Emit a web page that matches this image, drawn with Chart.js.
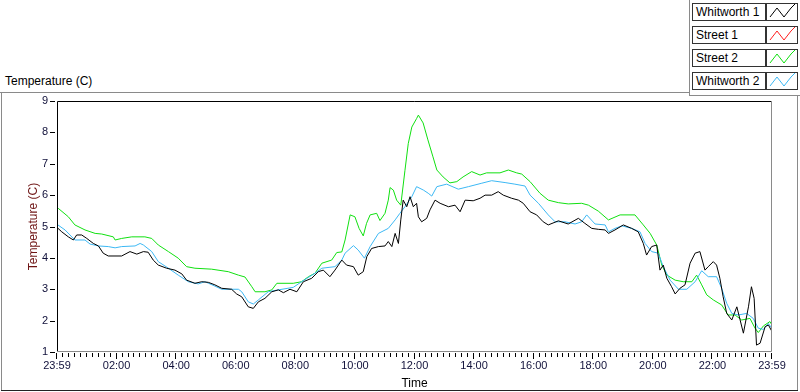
<!DOCTYPE html>
<html>
<head>
<meta charset="utf-8">
<script src="https://cdn.jsdelivr.net/npm/chart.js@4.4.1/dist/chart.umd.min.js"></script>
<style>
  html, body { margin:0; padding:0; background:#fff; }
  body { width:800px; height:392px; position:relative; overflow:hidden; font-family:"Liberation Sans", Arial, sans-serif; }
  #wrap { position:absolute; left:0; top:0; width:800px; height:392px; }
  .ln { position:absolute; background:#8a8a8a; }
  #ttl { position:absolute; left:5px; top:74px; font-size:12px; line-height:14px; color:#000; }
  .lgText { position:absolute; left:692px; width:69px; height:16px; border:1px solid #333; font-size:12px; line-height:16px; padding-left:3px; box-sizing:content-box; background:#fff; color:#000; white-space:nowrap; }
  .lgIcon { position:absolute; left:766px; width:30px; height:16px; border:1px solid #333; background:#fff; }
</style>
</head>
<body>
<div class="ln" style="left:0;top:92px;width:690px;height:1px;"></div>
<div class="ln" style="left:689px;top:0;width:1px;height:96px;"></div>
<div class="ln" style="left:689px;top:95px;width:111px;height:1px;"></div>
<div class="ln" style="left:1px;top:92px;width:1px;height:299px;"></div>
<div class="ln" style="left:797px;top:95px;width:1px;height:296px;"></div>
<div class="ln" style="left:1px;top:390px;width:797px;height:1px;background:#222;"></div>
<div id="ttl">Temperature (C)</div>
<div id="wrap"><canvas id="c"></canvas></div>
<div id="legend"></div>
<script>
// ---- Data (hours after 23:59, temperature in C) ----
const tickLabels = ["23:59","02:00","04:00","06:00","08:00","10:00","12:00","14:00","16:00","18:00","20:00","22:00","23:59"];
const tickHours  = [0,2,4,6,8,10,12,14,16,18,20,22,24];
const seriesNames = ["Whitworth 1","Street 1","Street 2","Whitworth 2"];

const w1Hours = [0,0.16,0.38,0.55,0.66,0.83,1.00,1.22,1.39,1.55,1.72,2.17,2.45,2.68,2.90,3.06,3.23,3.40,3.68,3.96,4.19,4.35,4.63,4.86,5.08,5.30,5.53,5.86,6.03,6.20,6.42,6.59,6.76,6.98,7.21,7.43,7.60,7.82,8.05,8.27,8.55,8.77,8.94,9.16,9.33,9.56,9.72,9.95,10.11,10.28,10.40,10.56,10.79,11.01,11.12,11.24,11.35,11.46,11.54,11.62,11.74,11.85,11.96,12.07,12.13,12.24,12.41,12.52,12.69,12.86,13.14,13.36,13.53,13.70,13.97,14.20,14.37,14.59,14.81,14.98,15.26,15.49,15.65,15.88,16.10,16.32,16.49,16.83,17.16,17.50,17.72,17.95,18.17,18.40,18.51,18.73,19.01,19.29,19.51,19.68,19.79,19.96,20.13,20.24,20.35,20.47,20.63,20.75,20.91,21.08,21.25,21.42,21.58,21.75,21.86,22.03,22.14,22.25,22.36,22.48,22.65,22.82,22.93,23.04,23.21,23.31,23.40,23.48,23.60,23.77,23.88,24.00];
const w1Temps = [4.97,4.83,4.67,4.57,4.73,4.73,4.62,4.46,4.38,4.15,4.06,4.06,4.20,4.12,4.20,4.18,3.93,3.77,3.67,3.61,3.49,3.29,3.19,3.24,3.22,3.14,3.03,3.00,2.85,2.76,2.44,2.39,2.60,2.71,2.92,2.98,2.89,3.00,2.92,3.24,3.35,3.56,3.61,3.40,3.61,3.93,3.77,3.72,3.45,3.56,4.04,4.30,4.36,4.38,4.52,4.36,4.78,4.46,5.21,5.84,5.63,5.95,5.63,5.74,5.31,5.15,5.26,5.53,5.84,5.74,5.63,5.68,5.47,5.84,5.82,5.90,6.00,6.00,6.11,6.00,5.90,5.84,5.74,5.47,5.37,5.15,5.05,5.18,5.08,5.26,5.10,4.94,4.91,4.89,4.78,4.89,5.05,4.94,4.83,4.46,4.09,4.36,4.41,3.61,3.77,3.35,3.08,2.85,3.03,3.14,3.83,4.15,4.20,3.61,3.72,3.88,3.77,3.35,2.76,2.23,2.02,2.44,2.02,1.60,2.44,3.08,2.71,1.22,1.28,1.81,1.86,1.65];

const s1Hours = [];
const s1Temps = [];

const s2Hours = [0,0.04,0.38,0.60,0.94,1.28,1.50,1.89,1.95,2.17,2.51,2.95,3.18,3.40,3.74,4.07,4.35,4.63,5.19,5.75,6.09,6.31,6.54,6.65,6.98,7.21,7.38,7.93,8.21,8.44,8.66,8.89,9.22,9.39,9.56,9.67,9.84,10.00,10.14,10.28,10.39,10.51,10.73,10.84,11.01,11.12,11.18,11.29,11.40,11.54,11.68,11.79,11.91,12.07,12.13,12.29,12.45,12.62,12.75,12.96,13.19,13.42,13.63,13.92,14.20,14.42,14.87,15.15,15.43,15.60,15.88,16.21,16.49,16.83,17.16,17.61,17.84,18.17,18.51,18.90,19.40,19.68,19.91,20.13,20.30,20.47,20.75,21.02,21.31,21.47,21.64,21.81,22.03,22.31,22.53,22.76,22.98,23.26,23.43,23.54,23.71,23.93,24.00];
const s2Temps = [5.60,5.58,5.31,5.05,4.89,4.78,4.76,4.67,4.57,4.62,4.67,4.67,4.62,4.41,4.20,3.99,3.72,3.67,3.64,3.56,3.45,3.39,3.08,2.92,2.92,2.98,3.19,3.19,3.24,3.40,3.51,3.83,3.93,4.17,4.19,4.57,5.37,5.31,4.94,4.70,5.10,5.37,5.42,5.19,5.42,5.84,6.24,6.16,5.84,5.68,6.79,7.64,8.17,8.44,8.55,8.30,7.76,7.22,6.80,6.58,6.39,6.43,6.58,6.75,6.64,6.71,6.71,6.80,6.71,6.67,6.43,6.06,5.84,5.76,5.72,5.74,5.68,5.49,5.21,5.37,5.37,5.05,4.78,4.41,3.77,3.45,3.29,3.24,3.24,3.45,3.14,2.82,2.66,2.50,2.18,2.18,2.02,2.07,1.76,1.62,1.83,1.97,1.86];

const w2Hours = [0,0.27,0.60,0.94,1.11,1.39,1.72,1.95,2.17,2.62,2.79,2.90,3.18,3.40,3.74,4.07,4.41,4.74,4.97,5.30,5.53,6.09,6.20,6.42,6.59,6.76,7.09,7.43,7.93,8.21,8.66,8.89,9.33,9.56,9.67,9.95,10.11,10.32,10.51,10.79,11.12,11.35,11.51,11.68,11.91,12.07,12.30,12.46,12.58,12.75,13.08,13.47,13.81,14.26,14.59,15.04,15.37,15.71,15.88,16.16,16.49,16.72,17.05,17.39,17.61,17.78,18.06,18.40,18.51,18.73,18.96,19.29,19.57,19.74,19.96,20.18,20.35,20.58,20.86,21.14,21.42,21.64,21.86,22.14,22.31,22.48,22.65,22.87,23.15,23.37,23.54,23.71,23.88,24.00];
const w2Temps = [5.07,4.89,4.57,4.57,4.44,4.38,4.36,4.32,4.36,4.38,4.46,4.41,4.20,3.88,3.67,3.45,3.24,3.17,3.24,3.10,3.00,3.00,2.92,2.60,2.53,2.66,2.92,2.98,3.06,3.24,3.51,3.67,3.72,3.93,4.15,4.39,4.25,3.99,4.36,4.78,4.94,5.21,5.42,5.63,5.95,6.27,6.16,6.06,5.97,6.27,6.35,6.19,6.27,6.38,6.46,6.40,6.35,6.29,6.00,5.74,5.37,5.15,5.15,5.08,5.15,5.37,5.08,5.05,4.83,4.94,5.02,4.94,4.83,4.46,4.20,4.15,3.72,3.29,3.00,3.00,3.24,3.59,3.40,3.40,3.03,2.55,2.23,2.18,2.23,2.07,1.76,1.72,1.91,1.75];

const seriesColors = ["#000000","#ff2020","#10e010","#3cb8f4"];

function pts(h, t) { return h.map((x, i) => ({ x: x, y: t[i] })); }

// ---- legend (HTML) ----
const lg = document.getElementById('legend');
seriesNames.forEach((name, i) => {
  const top = 3 + i * 23;
  const t = document.createElement('div');
  t.className = 'lgText'; t.style.top = top + 'px'; t.textContent = name;
  lg.appendChild(t);
  const ic = document.createElement('div');
  ic.className = 'lgIcon'; ic.style.top = top + 'px';
  ic.innerHTML = '<svg width="30" height="16"><polyline points="3,13 10,4 17,13 24,4 28,0" fill="none" stroke="' + seriesColors[i] + '" stroke-width="1"/></svg>';
  lg.appendChild(ic);
});

// ---- frame / tick plugin ----
const framePlugin = {
  id: 'frame',
  afterDraw(chart) {
    const { ctx, chartArea: a, scales } = chart;
    ctx.save();
    ctx.lineWidth = 1;
    // sunken plot border
    ctx.strokeStyle = '#000';
    ctx.beginPath();
    ctx.moveTo(a.left + 0.5, a.bottom); ctx.lineTo(a.left + 0.5, a.top + 0.5); ctx.lineTo(a.right, a.top + 0.5);
    ctx.stroke();
    ctx.strokeStyle = '#8a8a8a';
    ctx.beginPath();
    ctx.moveTo(a.right - 0.5, a.top); ctx.lineTo(a.right - 0.5, a.bottom - 0.5); ctx.lineTo(a.left, a.bottom - 0.5);
    ctx.stroke();
    // y ticks (dashes)
    ctx.strokeStyle = '#000';
    const ys = scales.y;
    for (let v = 1; v <= 9; v++) {
      const py = Math.round(ys.getPixelForValue(v)) + 0.5;
      ctx.beginPath(); ctx.moveTo(a.left - 7, py); ctx.lineTo(a.left - 2, py); ctx.stroke();
    }
    // x ticks: minor every 0.2 h, major every 2 h
    const xs = scales.x;
    for (let k = 0; k <= 120; k++) {
      const h = k * 0.2;
      const px = Math.round(xs.getPixelForValue(h)) - 0.5;
      const major = (k % 10 === 0);
      ctx.beginPath(); ctx.moveTo(px, a.bottom + 1); ctx.lineTo(px, a.bottom + (major ? 7 : 5)); ctx.stroke();
    }
    ctx.restore();
  }
};

const datasets = [
  { label: seriesNames[0], data: pts(w1Hours, w1Temps), borderColor: seriesColors[0], order: 1 },
  { label: seriesNames[1], data: pts(s1Hours, s1Temps), borderColor: seriesColors[1], order: 4 },
  { label: seriesNames[2], data: pts(s2Hours, s2Temps), borderColor: seriesColors[2], order: 3 },
  { label: seriesNames[3], data: pts(w2Hours, w2Temps), borderColor: seriesColors[3], order: 2 }
].map(d => Object.assign(d, { borderWidth: 1, pointRadius: 0, tension: 0, fill: false }));

new Chart(document.getElementById('c'), {
  type: 'line',
  data: { datasets },
  plugins: [framePlugin],
  options: {
    responsive: true,
    maintainAspectRatio: false,
    animation: false,
    layout: { padding: { left: 0, top: 101, right: 28, bottom: 0 } },
    plugins: { legend: { display: false }, tooltip: { enabled: false }, title: { display: false } },
    scales: {
      x: {
        type: 'linear', min: 0, max: 24,
        afterFit: s => { s.height = 40; },
        afterBuildTicks: s => { s.ticks = tickHours.map(v => ({ value: v })); },
        ticks: {
          autoSkip: false, maxRotation: 0, padding: 7,
          color: '#10103a',
          font: { family: '"Liberation Sans", Arial, sans-serif', size: 11 },
          callback: (v) => { const i = tickHours.indexOf(v); return i >= 0 ? tickLabels[i] : ''; }
        },
        grid: { display: true, drawOnChartArea: false, drawTicks: false },
        border: { display: false },
        title: { display: true, text: 'Time', color: '#000', font: { family: '"Liberation Sans", Arial, sans-serif', size: 12 }, padding: { top: 0, bottom: 1 } }
      },
      y: {
        type: 'linear', min: 1, max: 9,
        afterFit: s => { s.width = 57; },
        ticks: {
          stepSize: 1, padding: 9, color: '#10103a',
          font: { family: '"Liberation Sans", Arial, sans-serif', size: 11 }
        },
        grid: { display: true, drawOnChartArea: false, drawTicks: false },
        border: { display: false },
        title: { display: true, text: 'Temperature (C)', color: '#6e1414', font: { family: '"Liberation Sans", Arial, sans-serif', size: 12 }, padding: { top: 26, bottom: 0 } }
      }
    }
  }
});
</script>
</body>
</html>
